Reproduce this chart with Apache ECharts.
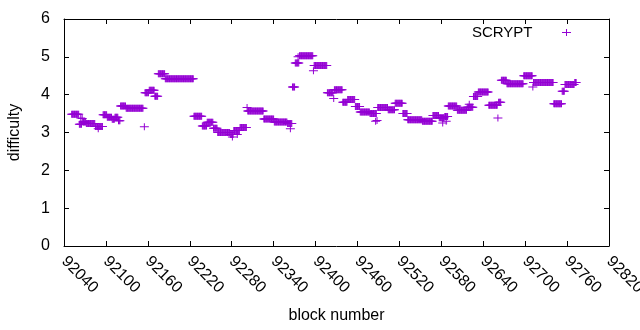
<!DOCTYPE html>
<html>
<head>
<meta charset="utf-8">
<script src="https://cdn.jsdelivr.net/npm/echarts@6/dist/echarts.min.js"></script>
<style>
  html, body { margin: 0; padding: 0; background: #fff; }
  #chart { width: 640px; height: 330px; }
</style>
</head>
<body>
<div id="chart"></div>
<script>
// difficulty stays flat between retargets, so the data is kept as runs of blocks
const runStart = [92051, 92062, 92066, 92067, 92072, 92085, 92096, 92102, 92109, 92113, 92118, 92121,
  92129, 92155, 92156, 92162, 92170, 92175, 92185, 92226, 92238, 92245, 92254, 92260,
  92278, 92283, 92292, 92302, 92303, 92326, 92341, 92360, 92367, 92371, 92377, 92397,
  92398, 92417, 92426, 92427, 92439, 92446, 92457, 92464, 92478, 92488, 92489, 92504,
  92514, 92525, 92532, 92553, 92568, 92577, 92585, 92590, 92603, 92617, 92626, 92633,
  92648, 92661, 92662, 92666, 92674, 92698, 92711, 92712, 92741, 92753, 92757, 92771];
const runEnd = [92061, 92065, 92066, 92071, 92084, 92095, 92101, 92108, 92112, 92117, 92120, 92128,
  92153, 92155, 92161, 92169, 92174, 92184, 92225, 92237, 92244, 92253, 92259, 92277,
  92282, 92291, 92301, 92302, 92325, 92340, 92359, 92366, 92370, 92376, 92396, 92397,
  92416, 92425, 92426, 92438, 92445, 92456, 92463, 92477, 92487, 92488, 92503, 92513,
  92524, 92531, 92552, 92567, 92576, 92584, 92589, 92602, 92616, 92625, 92632, 92647,
  92660, 92661, 92665, 92673, 92697, 92710, 92711, 92740, 92752, 92756, 92770, 92773];
const runValue = [3.48, 3.22, 3.37, 3.28, 3.24, 3.16, 3.47, 3.40, 3.35, 3.40, 3.31, 3.70,
  3.64, 3.15, 4.05, 4.12, 3.96, 4.55, 4.42, 3.43, 3.17, 3.27, 3.11, 3.00,
  2.95, 3.05, 3.13, 3.66, 3.57, 3.36, 3.28, 3.24, 4.20, 4.84, 5.03, 4.63,
  4.77, 4.05, 3.90, 4.13, 3.80, 3.87, 3.69, 3.54, 3.50, 3.32, 3.66, 3.60,
  3.77, 3.50, 3.34, 3.30, 3.45, 3.39, 3.42, 3.70, 3.59, 3.67, 3.95, 4.07,
  3.72, 3.38, 3.80, 4.38, 4.29, 4.50, 4.20, 4.32, 3.76, 4.09, 4.27, 4.32];

// single blocks that sit off their run
const extraBlock = [92064, 92089, 92281, 92288, 92364, 92375, 92486, 92582, 92587, 92620];
const extraValue = [3.38, 3.10, 2.88, 2.95, 3.10, 5.00, 3.30, 3.25, 3.30, 3.75];

const xMin = 92040, xMax = 92820, xStep = 60;
const yMin = 0, yMax = 6, yStep = 1;

let points = [];
for (let i = 0; i < runStart.length; i++) {
  for (let b = runStart[i]; b <= runEnd[i]; b++) {
    points.push([b, runValue[i]]);
  }
}
for (let i = 0; i < extraBlock.length; i++) {
  points.push([extraBlock[i], extraValue[i]]);
}

const plus = 'path://M0,3h9v1h-9z M4,0h1v7h-1z';
const font = 'Liberation Sans, Arial, sans-serif';
const black = '#000';

function frameAxis (pos, showLabel, extra) {
  return Object.assign({
    type: 'value',
    position: pos,
    axisLine: { show: true, onZero: false, lineStyle: { color: black, width: 1 } },
    axisTick: { show: true, inside: true, length: 5, lineStyle: { color: black } },
    splitLine: { show: false },
    axisLabel: { show: showLabel, color: black, fontFamily: font, fontSize: 16 }
  }, extra);
}

let chart = echarts.init(document.getElementById('chart'));
chart.setOption({
  animation: false,
  backgroundColor: '#fff',
  grid: { left: 64, right: 31, top: 19, bottom: 84, containLabel: false, outerBoundsMode: 'none' },
  legend: {
    data: ['SCRYPT'],
    right: 64,
    top: 20,
    align: 'right',
    itemWidth: 58,
    itemHeight: 7,
    icon: plus,
    textStyle: { color: black, fontFamily: font, fontSize: 15 }
  },
  xAxis: [
    frameAxis('bottom', true, {
      min: xMin, max: xMax, interval: xStep,
      name: 'block number',
      nameLocation: 'middle',
      nameGap: 62,
      nameTextStyle: { color: black, fontFamily: font, fontSize: 16 },
      axisLabel: {
        show: true, color: black, fontFamily: font, fontSize: 16, rotate: -45, margin: 13,
        formatter: function (v) { return String(v); }
      }
    }),
    frameAxis('top', false, { min: xMin, max: xMax, interval: xStep })
  ],
  yAxis: [
    frameAxis('left', true, {
      min: yMin, max: yMax, interval: yStep,
      name: 'difficulty',
      nameLocation: 'middle',
      nameGap: 41,
      nameTextStyle: { color: black, fontFamily: font, fontSize: 16 },
      axisLabel: { show: true, color: black, fontFamily: font, fontSize: 16, margin: 14 }
    }),
    frameAxis('right', false, { min: yMin, max: yMax, interval: yStep })
  ],
  series: [
    {
      name: 'SCRYPT',
      type: 'scatter',
      data: points,
      symbol: plus,
      symbolSize: [9, 7],
      itemStyle: { color: '#9400d3', opacity: 1 }
    }
  ]
});
</script>
</body>
</html>
